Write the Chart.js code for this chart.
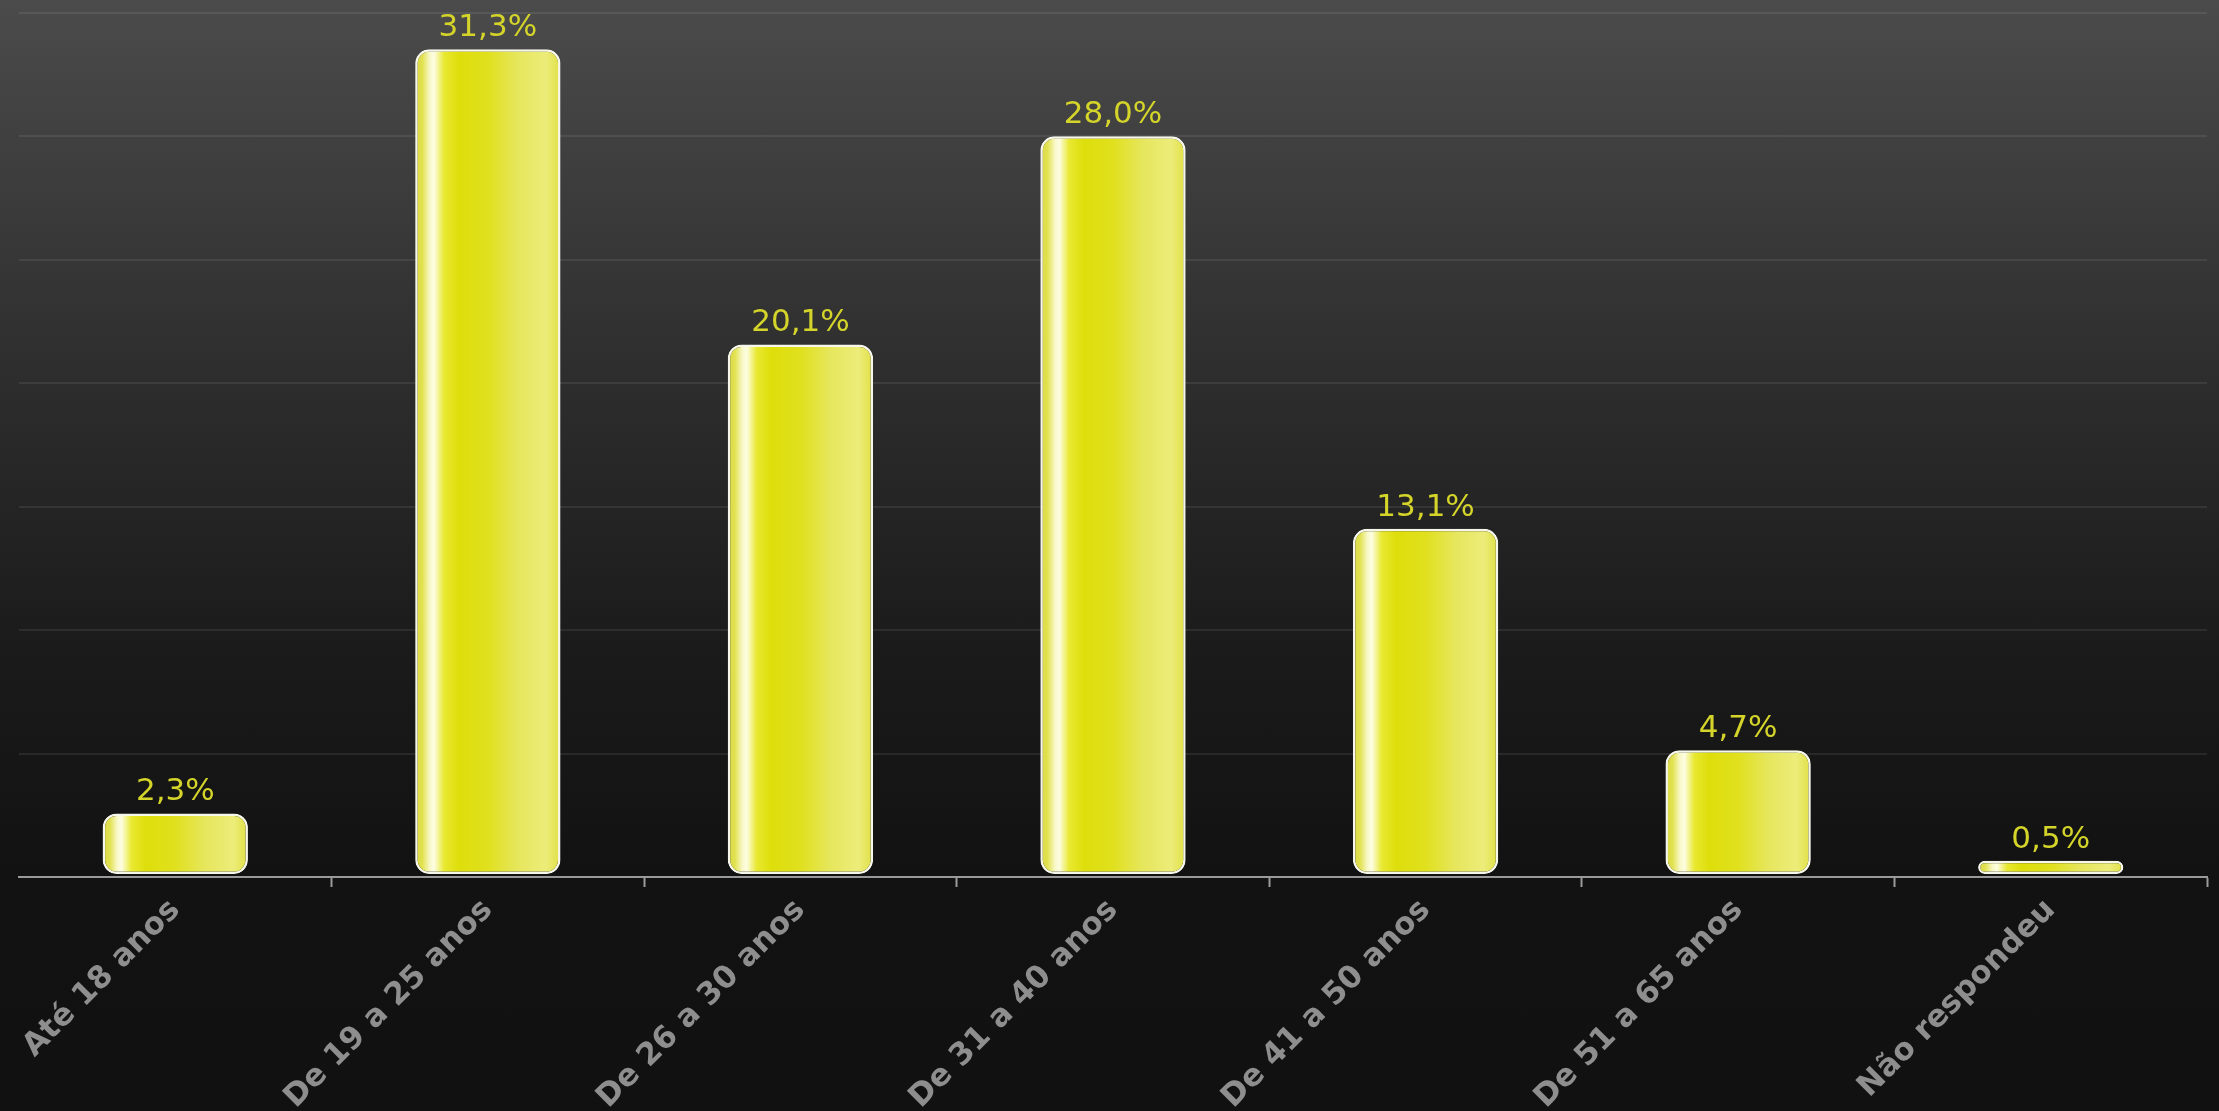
<!DOCTYPE html>
<html>
<head>
<meta charset="utf-8">
<script src="https://cdn.jsdelivr.net/npm/chart.js@4.4.1/dist/chart.umd.min.js"></script>
<style>
  html, body { margin: 0; padding: 0; }
  body {
    width: 2219px; height: 1111px; overflow: hidden;
    background: linear-gradient(to bottom, #4b4b4b 0%, #2e2e2e 33%, #1b1b1b 58%, #121212 78%, #111111 100%);
  }
  #wrap { width: 2219px; height: 1111px; position: relative; }
</style>
</head>
<body>
<div id="wrap"><canvas id="barChart"></canvas></div>
<script>
const categories = ['Até 18 anos', 'De 19 a 25 anos', 'De 26 a 30 anos', 'De 31 a 40 anos', 'De 41 a 50 anos', 'De 51 a 65 anos', 'Não respondeu'];
const shares = [2.3, 31.3, 20.1, 28.0, 13.1, 4.7, 0.5];

const yMin = -0.114;
const yMax = 32.68;
const gridCount = 7;
const barPct = 0.465;

// glossy yellow gradient across each bar
function barFill(ctx) {
  const chart = ctx.chart;
  if (!chart.chartArea) return '#dede10';
  const xs = chart.scales.x;
  const cx = xs.getPixelForValue(ctx.dataIndex);
  const half = (xs.width / categories.length) * barPct / 2;
  const g = chart.ctx.createLinearGradient(cx - half, 0, cx + half, 0);
  g.addColorStop(0, '#d8d848');
  g.addColorStop(0.05, '#e2e250');
  g.addColorStop(0.1, '#f8f8c8');
  g.addColorStop(0.13, '#fdfde2');
  g.addColorStop(0.2, '#e8e830');
  g.addColorStop(0.3, '#dede0c');
  g.addColorStop(0.5, '#e0e01e');
  g.addColorStop(0.7, '#e6e65c');
  g.addColorStop(0.9, '#ecec7a');
  g.addColorStop(1, '#e0e044');
  return g;
}

const valueLabels = {
  id: 'valueLabels',
  afterDatasetsDraw(chart) {
    const c = chart.ctx;
    const meta = chart.getDatasetMeta(0);
    c.save();
    c.font = '31px "DejaVu Sans"';
    c.fillStyle = '#d4d42a';
    c.textAlign = 'center';
    c.textBaseline = 'alphabetic';
    meta.data.forEach((bar, i) => {
      const txt = shares[i].toFixed(1).replace('.', ',') + '%';
      c.fillText(txt, bar.x, bar.y - 13);
    });
    c.restore();
  }
};

const ctx1 = document.getElementById('barChart');

new Chart(ctx1, {
  type: 'bar',
  data: {
    labels: categories,
    datasets: [{
      data: shares,
      backgroundColor: barFill,
      borderColor: '#f6f6ea',
      borderWidth: 2.5,
      borderRadius: 14,
      borderSkipped: false,
      barPercentage: barPct,
      categoryPercentage: 1
    }]
  },
  options: {
    responsive: true,
    maintainAspectRatio: false,
    animation: false,
    layout: { padding: { left: 19, right: 12, top: 13, bottom: 0 } },
    plugins: {
      legend: { display: false },
      tooltip: { enabled: false }
    },
    scales: {
      x: {
        grid: {
          drawOnChartArea: false,
          drawTicks: true,
          tickLength: 10,
          tickWidth: 2,
          tickColor: (c) => c.index === 0 ? 'rgba(0,0,0,0)' : '#9a9a9a'
        },
        border: { color: '#9a9a9a', width: 2 },
        ticks: {
          autoSkip: false,
          minRotation: 45,
          maxRotation: 45,
          padding: 5,
          color: '#8e8e8e',
          font: { family: 'DejaVu Sans', size: 31, weight: 'bold' }
        },
        afterFit: (s) => { s.height = 234; }
      },
      y: {
        min: yMin,
        max: yMax,
        grid: {
          color: 'rgba(255,255,255,0.08)',
          lineWidth: 2,
          drawTicks: false
        },
        border: { display: false },
        ticks: { display: false },
        afterBuildTicks: (s) => {
          const step = (s.max - s.min) / gridCount;
          s.ticks = [];
          for (let i = 0; i <= gridCount; i++) s.ticks.push({ value: s.min + i * step });
        },
        afterFit: (s) => { s.width = 0; }
      }
    }
  },
  plugins: [valueLabels]
});
</script>
</body>
</html>
